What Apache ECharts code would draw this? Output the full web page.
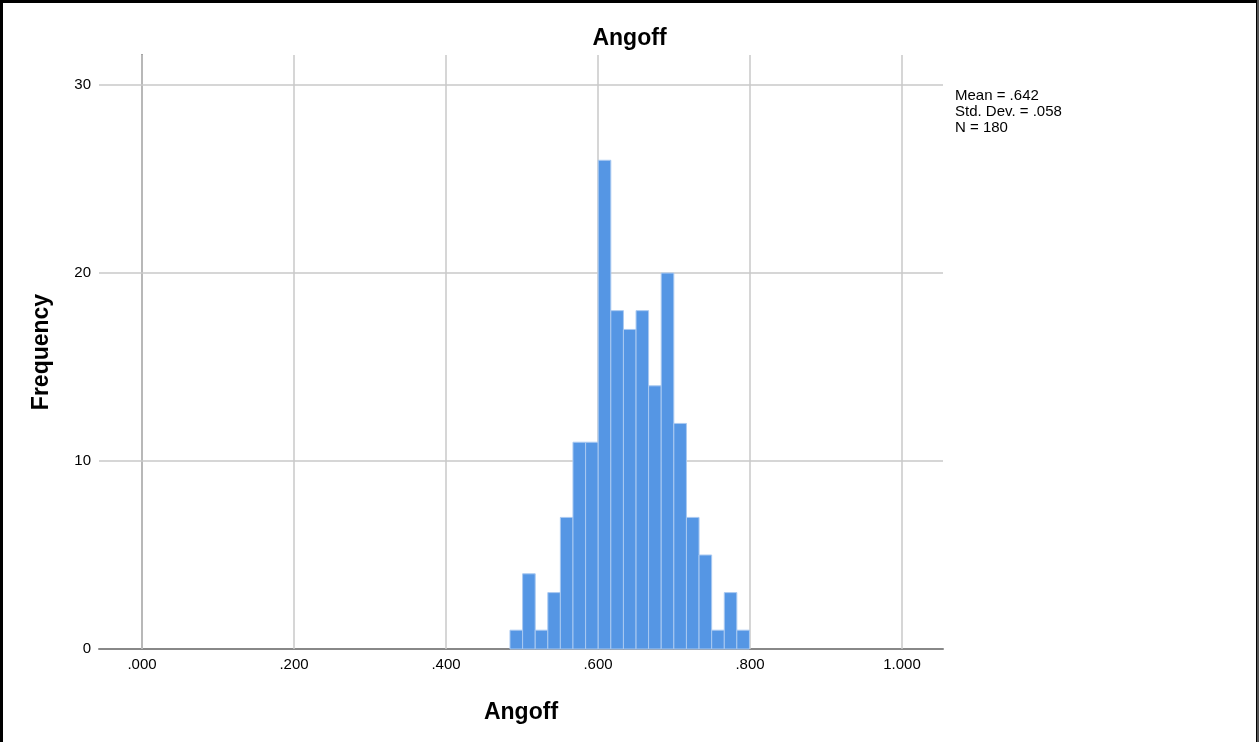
<!DOCTYPE html>
<html>
<head>
<meta charset="utf-8">
<script src="https://cdn.jsdelivr.net/npm/echarts@6/dist/echarts.min.js"></script>
<style>
html,body{margin:0;padding:0;background:#fff;}
#c{width:1259px;height:742px;}
</style>
</head>
<body>
<div id="c"></div>
<script>
// Histogram bin edges (Angoff values) and frequencies
const binEdges = [0.4842, 0.5008, 0.5174, 0.5340, 0.5505, 0.5671, 0.5837, 0.6003, 0.6169, 0.6335, 0.6501,
                  0.6666, 0.6832, 0.6998, 0.7164, 0.7330, 0.7496, 0.7662, 0.7827, 0.7993];
const frequencies = [1, 4, 1, 3, 7, 11, 11, 26, 18, 17, 18, 14, 20, 12, 7, 5, 1, 3, 1];
const xTicks = [0, 0.2, 0.4, 0.6, 0.8, 1.0];
const yTicks = [0, 10, 20, 30];
const statsLines = ['Mean = .642', 'Std. Dev. = .058', 'N = 180'];

const barData = frequencies.map((f, i) => [binEdges[i], binEdges[i + 1], f]);

const FONT = '"Liberation Sans", Arial, sans-serif';
const chart = echarts.init(document.getElementById('c'));
chart.setOption({
  animation: false,
  backgroundColor: '#fff',
  title: {
    text: 'Angoff', left: 'center', top: 22,
    textStyle: { fontFamily: FONT, fontSize: 23, fontWeight: 'bold', color: '#000' }
  },
  grid: { left: 99, top: 55, width: 844, height: 594 },
  xAxis: {
    type: 'value', min: -0.0566, max: 1.054,
    name: 'Angoff', nameLocation: 'middle', nameGap: 52,
    nameTextStyle: { fontFamily: FONT, fontSize: 23, fontWeight: 'bold', color: '#000' },
    axisLine: { show: true, lineStyle: { color: '#888', width: 2 } },
    axisTick: { show: false },
    splitLine: { show: false },
    axisLabel: {
      customValues: xTicks, margin: 8,
      fontFamily: FONT, fontSize: 15, color: '#000',
      formatter: v => v.toFixed(3).replace(/^0/, '')
    }
  },
  yAxis: {
    type: 'value', min: 0, max: 31.6,
    name: 'Frequency', nameLocation: 'middle', nameGap: 46, nameRotate: 90,
    nameTextStyle: { fontFamily: FONT, fontSize: 23, fontWeight: 'bold', color: '#000' },
    axisLine: { show: true, lineStyle: { color: '#888', width: 2 } },
    axisTick: { show: false },
    splitLine: { show: false },
    axisLabel: {
      customValues: yTicks, margin: 8,
      fontFamily: FONT, fontSize: 15, color: '#000'
    }
  },
  series: [
    {
      type: 'line', data: [], silent: true, z: 1,
      markLine: {
        z: 1,
        silent: true, symbol: ['none', 'none'], animation: false,
        label: { show: false },
        lineStyle: { color: '#c8c8c8', width: 1.5, type: 'solid' },
        data: xTicks.map(v => ({ xAxis: v })).concat(yTicks.filter(v => v > 0).map(v => ({ yAxis: v })))
      }
    },
    {
      type: 'custom', z: 10,
      renderItem: function (params, api) {
        const p0 = api.coord([api.value(0), api.value(2)]);
        const p1 = api.coord([api.value(1), 0]);
        return {
          type: 'rect',
          shape: { x: p0[0], y: p0[1], width: p1[0] - p0[0], height: p1[1] - p0[1] },
          style: { fill: '#5596e4', stroke: '#a9c9f1', lineWidth: 1 }
        };
      },
      encode: { x: [0, 1], y: 2 },
      data: barData
    }
  ],
  graphic: [
    { type: 'rect', shape: { x: 1.5, y: 1.5, width: 1256, height: 760 },
      style: { fill: null, stroke: '#000', lineWidth: 3 }, z: 100 },
    { type: 'rect', shape: { x: 1257, y: 0, width: 2, height: 742 },
      style: { fill: '#555' }, z: 101 },
    { type: 'text', left: 955, top: 88,
      style: { text: statsLines.join('\n'), fontFamily: FONT, fontSize: 15, lineHeight: 16, fill: '#000' } }
  ]
});
</script>
</body>
</html>
